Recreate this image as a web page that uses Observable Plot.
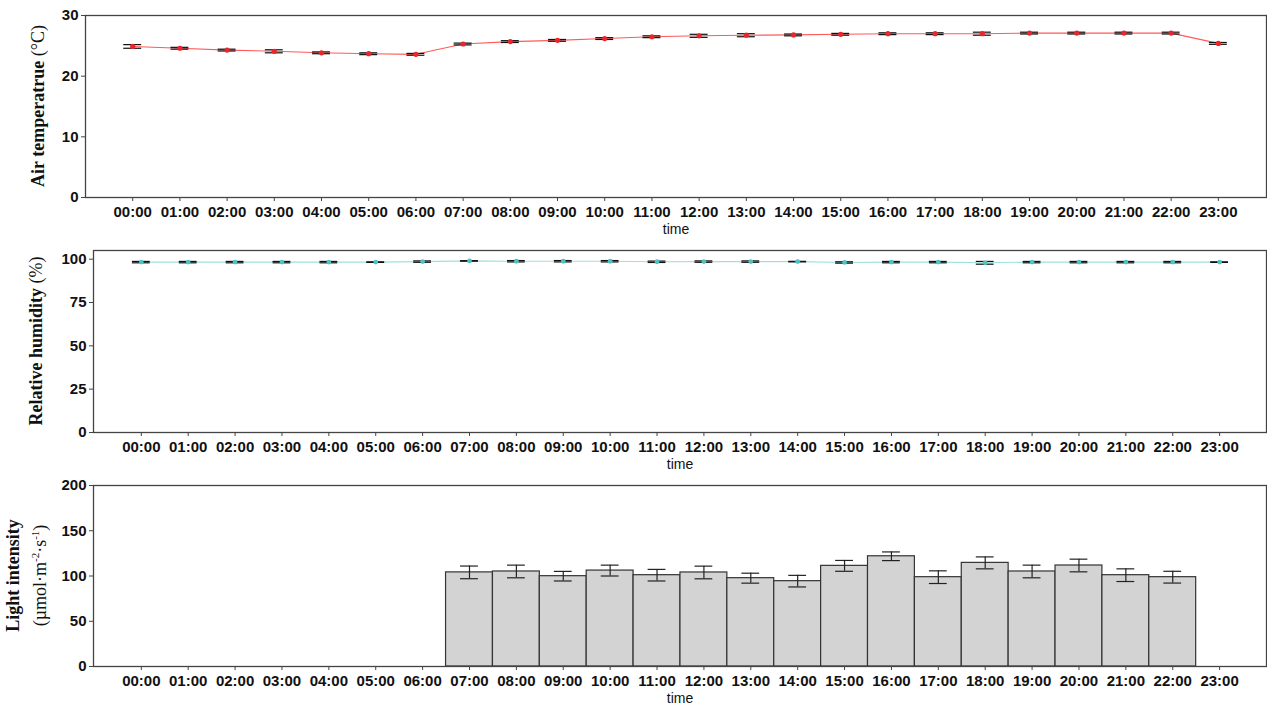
<!DOCTYPE html>
<html>
<head>
<meta charset="utf-8">
<script src="https://cdn.jsdelivr.net/npm/d3@7"></script>
<script src="https://cdn.jsdelivr.net/npm/@observablehq/plot@0.6"></script>
<style>
  body { margin: 0; background: #fff; }
  #chart svg { display: block; }
</style>
</head>
<body>
<div id="chart"></div>
<script>
// Hourly time labels
const times = ["00:00","01:00","02:00","03:00","04:00","05:00","06:00","07:00","08:00","09:00","10:00","11:00",
               "12:00","13:00","14:00","15:00","16:00","17:00","18:00","19:00","20:00","21:00","22:00","23:00"];

// Air temperature (°C), mean and standard deviation per hour
const tempMean = [24.9, 24.6, 24.3, 24.1, 23.85, 23.7, 23.6, 25.3, 25.7, 25.9, 26.2, 26.5,
                  26.65, 26.75, 26.8, 26.9, 27.0, 27.0, 27.0, 27.1, 27.1, 27.1, 27.1, 25.4];
const tempSd   = [0.3, 0.15, 0.15, 0.25, 0.15, 0.15, 0.15, 0.15, 0.15, 0.15, 0.15, 0.15,
                  0.25, 0.25, 0.15, 0.15, 0.15, 0.15, 0.25, 0.15, 0.15, 0.15, 0.15, 0.15];

// Relative humidity (%), mean and standard deviation per hour
const humMean = [98.3, 98.3, 98.3, 98.3, 98.3, 98.3, 98.6, 99.0, 98.8, 98.8, 98.8, 98.5,
                 98.6, 98.6, 98.6, 98.1, 98.3, 98.3, 97.9, 98.3, 98.3, 98.3, 98.3, 98.3];
const humSd   = [0.4, 0.4, 0.4, 0.4, 0.4, 0.15, 0.4, 0.15, 0.4, 0.4, 0.4, 0.4,
                 0.4, 0.4, 0.15, 0.4, 0.4, 0.4, 0.8, 0.4, 0.4, 0.4, 0.4, 0.15];

// Light intensity (µmol·m⁻²·s⁻¹), mean and standard deviation per hour (dark hours have none)
const lightMean = [null, null, null, null, null, null, null, 104, 105, 99.8, 106, 100.9,
                   103.9, 97.6, 94.3, 111.2, 121.8, 98.7, 114.5, 105, 111.6, 100.9, 98.7, null];
const lightSd   = [null, null, null, null, null, null, null, 7, 7, 5.3, 6, 6.4,
                   7, 5.5, 6.4, 6, 4.8, 7, 6.6, 7, 7, 7, 6.5, null];

const rows = (mean, sd) => times.map((t, i) => ({i, t, mean: mean[i], sd: sd[i]})).filter(d => d.mean != null);

const CAP = 0.19; // half-width of error-bar caps, in hours

function errorMarks(data, color) {
  return [
    Plot.ruleX(data, {x: "i", y1: d => d.mean - d.sd, y2: d => d.mean + d.sd, stroke: color, strokeWidth: 1.2}),
    Plot.ruleY(data, {x1: d => d.i - CAP, x2: d => d.i + CAP, y: d => d.mean - d.sd, stroke: color, strokeWidth: 1.2}),
    Plot.ruleY(data, {x1: d => d.i - CAP, x2: d => d.i + CAP, y: d => d.mean + d.sd, stroke: color, strokeWidth: 1.2})
  ];
}

function panel({height, marginLeft, xDomain, yDomain, yTicks, marks, title}) {
  const mt = 15, mb = 38;
  const svg = Plot.plot({
    width: 1267,
    height,
    marginLeft,
    marginRight: 1,
    marginTop: mt,
    marginBottom: mb,
    style: {fontFamily: "'Liberation Sans', Arial, sans-serif", color: "#111", background: "#fff"},
    x: {type: "linear", domain: xDomain},
    y: {domain: yDomain},
    marks: [
      ...marks,
      Plot.frame({stroke: "#444", strokeWidth: 1.3}),
      Plot.axisX({ticks: d3.range(times.length), tickFormat: i => times[i], tickSize: 4, tickPadding: 5,
                  fontSize: 15, fontWeight: "bold", label: null, stroke: "#444"}),
      Plot.axisY({ticks: yTicks, tickSize: 4, tickPadding: 3, fontSize: 15, fontWeight: "bold",
                  label: null, stroke: "#444"}),
      Plot.text(["time"], {text: d => d, frameAnchor: "bottom", dy: 36, fontSize: 14})
    ]
  });

  // Rotated y-axis title, with bold and regular parts
  const cy = mt + (height - mt - mb) / 2;
  const g = d3.select(svg).append("g")
    .attr("font-family", "'Liberation Serif', 'Times New Roman', serif")
    .attr("font-size", 18)
    .attr("fill", "#111");
  for (const line of title) {
    const t = g.append("text")
      .attr("transform", `translate(${line.x},${cy}) rotate(-90)`)
      .attr("text-anchor", "middle")
      .attr("dominant-baseline", "middle");
    for (const part of line.parts) {
      const s = t.append("tspan").text(part.text).attr("font-weight", part.bold ? "bold" : "normal");
      if (part.sup) s.attr("baseline-shift", "super").attr("font-size", 11);
    }
  }
  document.getElementById("chart").append(svg);
}

const temp = rows(tempMean, tempSd);
const hum = rows(humMean, humSd);
const light = rows(lightMean, lightSd);

panel({
  height: 235,
  marginLeft: 85,
  xDomain: [-1.0, 24.02],
  yDomain: [0, 30],
  yTicks: [0, 10, 20, 30],
  marks: [
    Plot.line(temp, {x: "i", y: "mean", stroke: "#ff5a5a", strokeWidth: 1.1}),
    ...errorMarks(temp, "#111"),
    Plot.dot(temp, {x: "i", y: "mean", r: 2.6, fill: "#e8262b", stroke: "none"})
  ],
  title: [{x: 40, parts: [{text: "Air temperatrue ", bold: true}, {text: "(°C)"}]}]
});

panel({
  height: 235,
  marginLeft: 93,
  xDomain: [-1.02, 24.0],
  yDomain: [0, 105],
  yTicks: [0, 25, 50, 75, 100],
  marks: [
    Plot.line(hum, {x: "i", y: "mean", stroke: "#9fe0e0", strokeWidth: 1.1}),
    ...errorMarks(hum, "#111"),
    Plot.dot(hum, {x: "i", y: "mean", r: 2.4, fill: "#4cc4c4", stroke: "none"})
  ],
  title: [{x: 38, parts: [{text: "Relative humidity ", bold: true}, {text: "(%)"}]}]
});

panel({
  height: 234,
  marginLeft: 93,
  xDomain: [-1.02, 24.0],
  yDomain: [0, 200],
  yTicks: [0, 50, 100, 150, 200],
  marks: [
    Plot.rectY(light, {x1: d => d.i - 0.5, x2: d => d.i + 0.5, y: "mean", fill: "#d3d3d3", stroke: "#333", strokeWidth: 1.2}),
    ...errorMarks(light, "#222")
  ],
  title: [
    {x: 15, parts: [{text: "Light intensity", bold: true}]},
    {x: 42, parts: [{text: "(µmol·m"}, {text: "-2", sup: true}, {text: "·s"}, {text: "-1", sup: true}, {text: ")"}]}
  ]
});
</script>
</body>
</html>
